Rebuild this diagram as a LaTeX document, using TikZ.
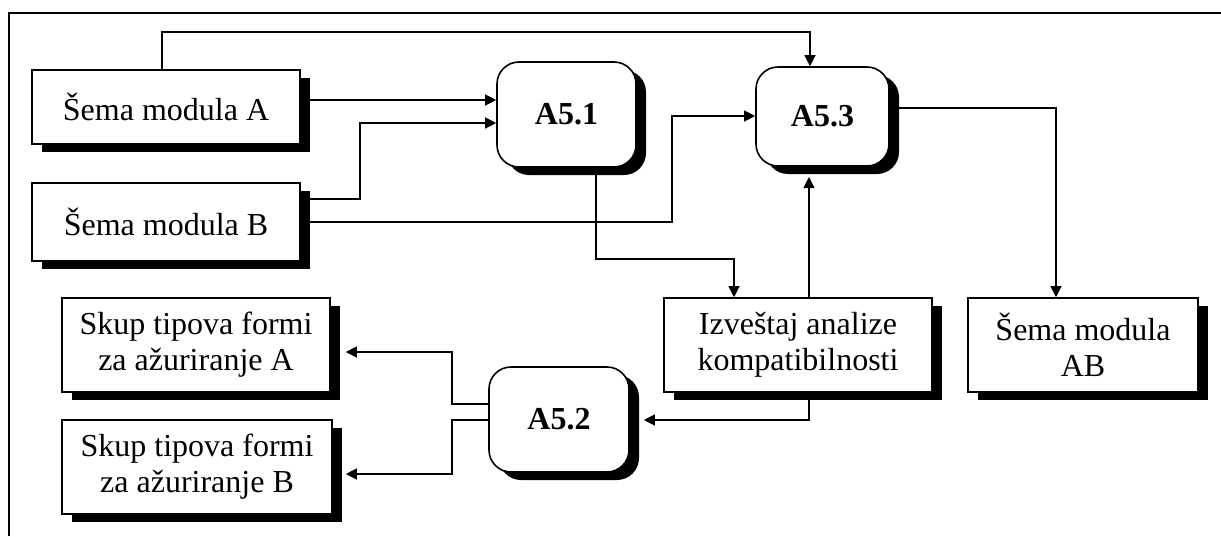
\documentclass[tikz,border=0pt]{standalone}
\usepackage{fontspec}
\setmainfont{Liberation Serif}
\usetikzlibrary{shadows,arrows.meta}
\begin{document}
\begin{tikzpicture}[x=1pt,y=-1pt,
  box/.style={draw,line width=1.6pt,fill=white,inner sep=0pt,align=center,
    font=\fontsize{32}{36}\selectfont,
    drop shadow={shadow xshift=10pt,shadow yshift=-8pt,fill=black,opacity=1}},
  proc/.style={box,rounded corners=22pt,font=\fontsize{32}{36}\selectfont\bfseries},
  conn/.style={line width=1.2pt},
  arr/.style={conn,-{Triangle[length=11pt,width=11pt]}}]
\useasboundingbox (0,0) rectangle (1221,536);
\draw[line width=1.8pt] (9,536) -- (9,13) -- (1221,13);

\node[box,minimum width=268pt,minimum height=74pt] (smA) at (166,107) {\raisebox{-3pt}{Šema modula A}};
\node[box,minimum width=268pt,minimum height=78pt] (smB) at (166,222) {\raisebox{-3pt}{Šema modula B}};
\node[proc,minimum width=139pt,minimum height=105pt] (a51) at (566.5,114.5) {\raisebox{-6pt}{A5.1}};
\node[proc,minimum width=133pt,minimum height=99pt] (a53) at (822.5,116.5) {\raisebox{-5pt}{A5.3}};
\node[box,minimum width=268pt,minimum height=94pt] (izv) at (798,345) {Izveštaj analize\\kompatibilnosti};
\node[box,minimum width=230pt,minimum height=94pt] (smAB) at (1083,345) {Šema modula\\AB};
\node[box,minimum width=268pt,minimum height=94pt] (skA) at (196,345) {Skup tipova formi\\za ažuriranje A};
\node[box,minimum width=270pt,minimum height=94pt] (skB) at (197,467) {Skup tipova formi\\za ažuriranje B};
\node[proc,minimum width=140pt,minimum height=105pt] (a52) at (559,419.5) {\raisebox{-6pt}{A5.2}};

\coordinate (yTop) at (0,32);
\coordinate (y100) at (0,100);
\coordinate (y123) at (0,123);
\coordinate (y199) at (0,199);
\coordinate (y222) at (0,222);
\coordinate (y116) at (0,116);
\coordinate (y259) at (0,259);
\coordinate (y108) at (0,108);
\coordinate (y177) at (0,177);
\coordinate (y420) at (0,420);
\coordinate (y404) at (0,404);
\coordinate (y352) at (0,352);
\coordinate (y474) at (0,474);
\coordinate (x360) at (360,0);
\coordinate (x672) at (672,0);
\coordinate (x734) at (734,0);
\coordinate (x809) at (809,0);
\coordinate (x810) at (810,0);
\coordinate (x452) at (452,0);
\coordinate (x596) at (596,0);
\coordinate (x1056) at (1056,0);
\path (a52.east) ++(14,0) coordinate (a52sh);
\path (skA.east) ++(15,0) coordinate (skAsh);
\path (skB.east) ++(13,0) coordinate (skBsh);

\draw[arr] ([xshift=-4pt]smA.north) |- (x810 |- yTop) -- (x810 |- a53.north);
\draw[arr] (smA.east |- y100) -- (a51.west |- y100);
\draw[arr] (smB.east |- y199) -| (x360 |- y123) -- (a51.west |- y123);
\draw[arr] (smB.east |- y222) -| (x672 |- y116) -- (a53.west |- y116);
\draw[arr] (x596 |- a51.south) |- (x734 |- y259) -- (x734 |- izv.north);
\draw[arr] (x809 |- izv.north) -- (x809 |- y177);
\draw[arr] (a53.east |- y108) -| (x1056 |- smAB.north);
\draw[arr] (x809 |- izv.south) |- (a52sh |- y420);
\draw[arr] (a52.west |- y404) -| (x452 |- y352) -- (skAsh |- y352);
\draw[arr] (a52.west |- y420) -| (x452 |- y474) -- (skBsh |- y474);
\end{tikzpicture}
\end{document}
